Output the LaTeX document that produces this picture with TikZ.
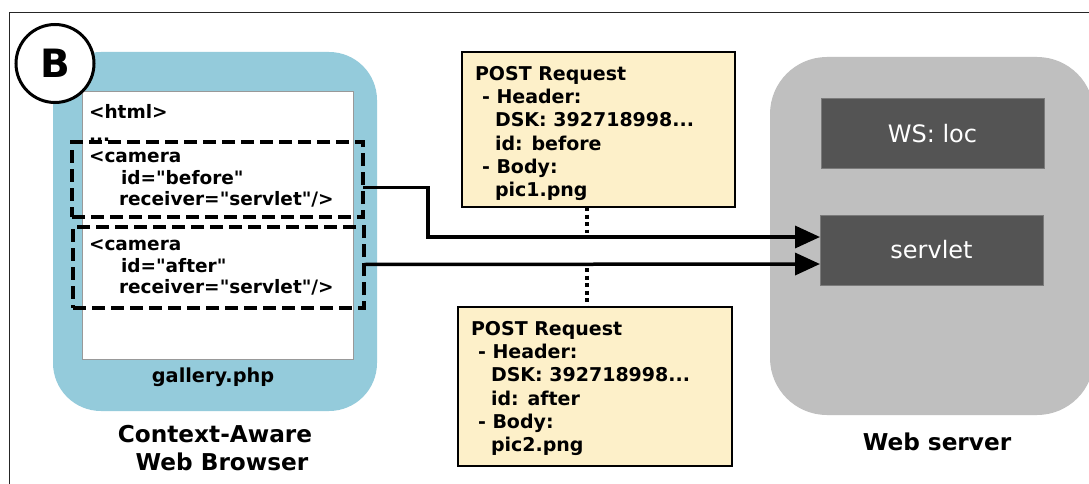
\documentclass[tikz,border=0pt]{standalone}
\usepackage{fontspec}
\newfontfamily\vfont{DejaVu Sans}
\usetikzlibrary{arrows.meta,calc}
\definecolor{browserblue}{HTML}{94CBDB}
\definecolor{postfill}{HTML}{FDF0C9}
\definecolor{servergray}{HTML}{BFBFBF}
\definecolor{darkbox}{HTML}{545454}
\definecolor{darkedge}{HTML}{7A7A7A}
\begin{document}
\begin{tikzpicture}[x=1pt,y=-1pt,
  every node/.style={inner sep=0pt, outer sep=0pt},
  codetext/.style={anchor=base west, font=\vfont\fontsize{18.5}{22}\selectfont\bfseries},
  posttext/.style={anchor=north west, align=left, font=\vfont\fontsize{19}{23.3}\selectfont\bfseries},
  caption/.style={anchor=base, font=\vfont\fontsize{23.2}{26}\selectfont\bfseries},
  dashbox/.style={draw=black, line width=3.8pt, dash pattern=on 13pt off 6pt},
  postbox/.style={draw=black, line width=2.5pt, fill=postfill},
  srvbox/.style={draw=darkedge, line width=1pt, fill=darkbox, text=white, font=\vfont\fontsize{24}{28}\selectfont},
  flow/.style={draw=black, line width=3.5pt, -{Triangle[length=25pt,width=22pt]}},
  dotline/.style={draw=black, line width=4pt, dash pattern=on 4pt off 3.5pt}
]
\useasboundingbox (0,0) rectangle (1089,484);
\fill[white] (0,0) rectangle (1089,484);
% frame
\draw[line width=1.5pt, black!85] (9.5,484) -- (9.5,12.5) -- (1089,12.5);

% browser
\node[fill=browserblue, rounded corners=48pt, minimum width=324pt, minimum height=359pt] (browser) at (215,231.5) {};
\node[fill=white, draw=black!40, line width=1pt, minimum width=271pt, minimum height=267pt] (page) at (217.5,225.5) {};
\node[draw=black, line width=3pt, fill=white, circle, minimum size=78pt, font=\vfont\fontsize{39}{40}\selectfont\bfseries] (badge) at (55,63.5) {B};

\node[codetext] (html) at (89,118) {<html>};
\node[codetext] (ell) at (89,142) {...};
\node[codetext] (cam1) at (89,162) {<camera};
\node[codetext] (id1) at (121,184) {id="before"};
\node[codetext] (rec1) at (119,205) {receiver="servlet"/>};
\node[codetext] (cam2) at (89,250) {<camera};
\node[codetext] (id2) at (121,272) {id="after"};
\node[codetext] (rec2) at (119,293) {receiver="servlet"/>};

\node[dashbox, minimum width=291pt, minimum height=75pt] (d1) at (217.5,179.5) {};
\node[dashbox, minimum width=291pt, minimum height=81pt] (d2) at (218.5,267.5) {};

\node[codetext, anchor=base, font=\vfont\fontsize{19.3}{22}\selectfont\bfseries] (gal) at (213,382) {gallery.php};
\node[caption] (cap1) at (215,442) {Context-Aware};
\node[caption] (cap2) at (222,470) {Web Browser};

% server
\node[fill=servergray, rounded corners=57pt, minimum width=324pt, minimum height=358pt] (server) at (932,236) {};
\node[srvbox, minimum width=223pt, minimum height=69pt] (ws) at (932.5,133.5) {WS: loc};
\node[srvbox, minimum width=223pt, minimum height=70pt] (serv) at (931.5,250) {servlet};
\node[caption] (cap3) at (937,450) {Web server};

% post boxes
\node[postbox, minimum width=273pt, minimum height=155pt] (p1) at (598.5,129.5) {};
\node[posttext] (t1) at (475,66) {POST Request\\\hspace*{7pt}- Header:\\\hspace*{20pt}DSK: 392718998...\\\hspace*{20pt}id: before\\\hspace*{7pt}- Body:\\\hspace*{20pt}pic1.png};
\node[postbox, minimum width=274pt, minimum height=159pt] (p2) at (595,386.5) {};
\node[posttext] (t2) at (471,321) {POST Request\\\hspace*{7pt}- Header:\\\hspace*{20pt}DSK: 392718998...\\\hspace*{20pt}id: after\\\hspace*{7pt}- Body:\\\hspace*{20pt}pic2.png};

% dotted links
\coordinate (dtop) at (587,233);
\coordinate (dbot) at (587,268);
\draw[dotline] (p1.south -| dtop) -- (dtop);
\draw[dotline] (dbot) -- (dbot |- p2.north);

% arrows
\coordinate (bend) at (428,212);
\draw[flow] ([yshift=-8pt]d1.east) -| (bend) |- ([yshift=13pt]serv.west);
\draw[flow] ([yshift=3pt]d2.east) -- ([yshift=-14pt]serv.west);
\end{tikzpicture}
\end{document}
